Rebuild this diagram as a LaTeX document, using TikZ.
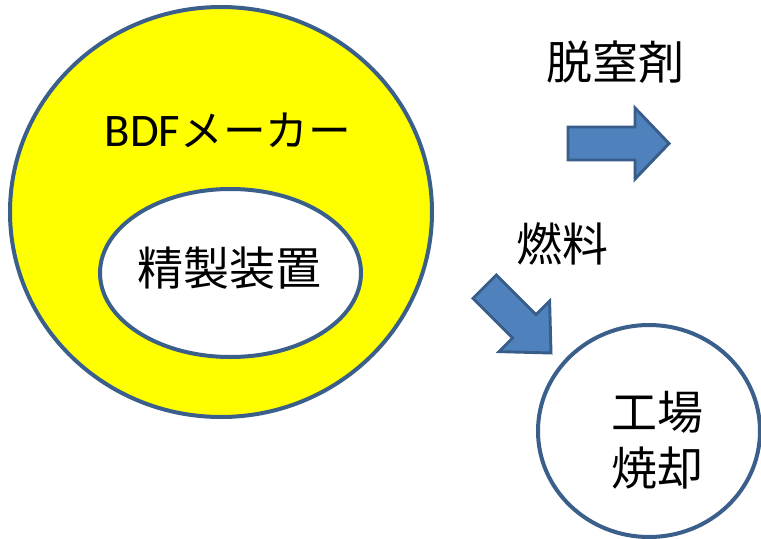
\documentclass[tikz,border=0pt]{standalone}
\usepackage{fontspec}
\setmainfont{Carlito}
\newfontfamily\cjk{Noto Sans CJK JP}
\definecolor{edgeblue}{HTML}{3A5F8B}
\definecolor{arrowfill}{HTML}{4F81BD}
\definecolor{arrowedge}{HTML}{385D8A}
\definecolor{brightyellow}{RGB}{255,255,0}
\begin{document}
\begin{tikzpicture}[x=0.75pt,y=-0.75pt,
  ring/.style={draw=edgeblue,line width=3pt},
  blockarrow/.style={fill=arrowfill,draw=arrowedge,line width=2.2pt,line join=miter},
  jtext/.style={font=\cjk\fontsize{34.5}{40}\selectfont,inner sep=0pt,align=center}]
\useasboundingbox (0,0) rectangle (761,539);
% outer yellow ellipse
\draw[ring,fill=brightyellow] (221,212) ellipse [x radius=211, y radius=205];
% inner white ellipse
\draw[ring,fill=white] (230.5,273) ellipse [x radius=130.5, y radius=84];
% plant circle
\draw[ring,fill=white] (649,431) ellipse [x radius=111, y radius=106];
% texts
\node[inner sep=0pt] (maker) at (228,130) {\fontsize{35}{40}\selectfont BDF{\cjk\fontsize{32}{40}\selectfont メーカー}};
\node[jtext] (refine) at (229,268) {精製装置};
\node[jtext] (plant) at (657,440) {工場\\[2pt]焼却};
\node[jtext] (denox) at (615,62) {脱窒剤};
\node[jtext] (fuel) at (562,244) {燃料};
% right arrow
\draw[blockarrow] (568,127) -- (635,127) -- (635,108) -- (669,143.5) -- (635,179) -- (635,160) -- (568,160) -- cycle;
% diagonal arrow
\draw[blockarrow] (496.4,275) -- (536,314.6) -- (549.6,301) -- (551,353) -- (499,351.6) -- (512.6,338) -- (473,298.4) -- cycle;
\end{tikzpicture}
\end{document}
